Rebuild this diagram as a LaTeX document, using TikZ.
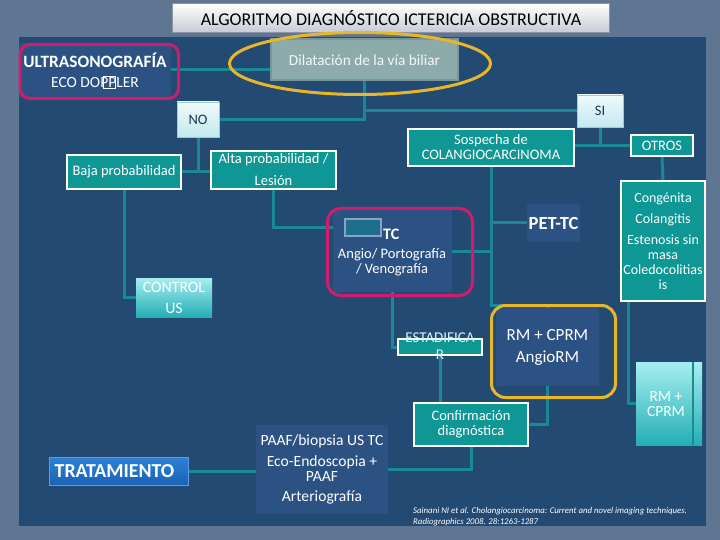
\documentclass[tikz,border=0pt]{standalone}
\usepackage{fontspec}
\setmainfont{Carlito}
\usetikzlibrary{calc}
\pgfdeclarelayer{bgl}
\pgfdeclarelayer{connl}
\pgfsetlayers{bgl,connl,main}
\definecolor{outerbg}{HTML}{5E7692}
\definecolor{panel}{HTML}{234A73}
\definecolor{innerblue}{HTML}{2B5283}
\definecolor{tealc}{HTML}{0F9796}
\definecolor{connc}{HTML}{1B8896}
\definecolor{pinkc}{HTML}{D11C6D}
\definecolor{yellowc}{HTML}{E8B62A}
\definecolor{dilc}{HTML}{8DABAA}
\definecolor{dilborder}{HTML}{7A9797}
\definecolor{lighttop}{HTML}{F0FAFB}
\definecolor{lightbot}{HTML}{C2E8EF}
\definecolor{lightborder}{HTML}{9CCBD5}
\definecolor{darktxt}{HTML}{1F3550}
\definecolor{cyantop}{HTML}{A6EEF1}
\definecolor{cyanbot}{HTML}{24AEB4}
\definecolor{trattop}{HTML}{2B80D6}
\definecolor{tratbot}{HTML}{1A62B4}
\definecolor{tratborder}{HTML}{5C9CE0}
\definecolor{titletop}{HTML}{FFFFFF}
\definecolor{titlebot}{HTML}{C6CAD6}
\definecolor{titleborder}{HTML}{8E94A8}
\definecolor{sqfill}{HTML}{1E6E8C}
\definecolor{sqborder}{HTML}{86A4C4}
\newcommand\nrmtxt{\fontsize{14.5}{15}\selectfont}
\tikzset{
  conn/.style={draw=connc, line width=3pt},
  tbox/.style={fill=tealc, draw=white, line width=2pt, text=white, inner sep=0pt, align=center, font=\nrmtxt},
  bbox/.style={fill=innerblue, text=white, inner sep=0pt, align=center, font=\nrmtxt},
  lbox/.style={top color=lighttop, bottom color=lightbot, draw=lightborder, line width=0.5pt, text=darktxt, inner sep=0pt, font=\nrmtxt},
  cbox/.style={top color=cyantop, bottom color=cyanbot, text=white, inner sep=0pt, align=center, font=\nrmtxt},
  pinkframe/.style={draw=pinkc, line width=3pt, rounded corners=10pt},
  yellowframe/.style={draw=yellowc, line width=3pt, rounded corners=14pt},
}
\begin{document}
\begin{tikzpicture}[x=1pt,y=-1pt]
\useasboundingbox (0,0) rectangle (720,540);
\begin{pgfonlayer}{bgl}
\fill[outerbg] (0,0) rectangle (720,540);
\fill[panel] (19,37) rectangle (706,526);
\end{pgfonlayer}

% title
\node[top color=titletop, bottom color=titlebot, draw=titleborder, line width=0.8pt,
  minimum width=437, minimum height=29, inner sep=0pt, text=black,
  font=\fontsize{18}{20}\selectfont] (title) at (391,18) {ALGORITMO DIAGNÓSTICO ICTERICIA OBSTRUCTIVA};

% ultrasonografia
\node[bbox, minimum width=152, minimum height=54, font=\fontsize{15.5}{16}\selectfont] (us) at (95,70)
  {{\fontsize{17.3}{18}\selectfont\bfseries ULTRASONOGRAFÍA}\\[4pt]ECO DOPPLER};
\draw[white, line width=0.6pt] (103,76) rectangle (115,88);
\draw[pinkframe] (20,44.5) rectangle (178.5,98.5);

% dilatacion
\node[fill=dilc, draw=dilborder, line width=1.5pt, minimum width=187, minimum height=41,
  inner sep=0pt, text={white!90!dilc}, font=\fontsize{15.3}{16}\selectfont] (dil) at (364.5,59.5)
  {\raisebox{-3pt}[10pt][3pt]{Dilatación de la vía biliar}};
\draw[yellowc, line width=3pt] (360,63.5) ellipse [x radius=130.5pt, y radius=31pt];

% NO / SI
\node[lbox, minimum width=42, minimum height=35] (no) at (198,119.5) {NO};
\node[lbox, minimum width=46, minimum height=32] (si) at (600,111) {SI};

% NO branch
\node[tbox, minimum width=114, minimum height=34] (baja) at (124,172) {Baja probabilidad};
\node[tbox, minimum width=125, minimum height=38] (alta) at (273.5,170) {Alta probabilidad /\\[7pt]Lesión};
\node[cbox, minimum width=76, minimum height=39, font=\fontsize{15.8}{16}\selectfont] (control) at (174,297.5) {CONTROL\\[5pt]US};

% TC group
\node[fill=innerblue, minimum width=119, minimum height=82, inner sep=0pt] (tcin) at (392.5,251) {};
\node[fill=sqfill, draw=sqborder, line width=2pt, minimum width=36, minimum height=17, inner sep=0pt] (tcsq) at (363,227.5) {};
\node[anchor=west, text=white, inner sep=0pt, font=\fontsize{16}{18}\selectfont\bfseries] (tctxt) at (383,234) {TC};
\node[text=white, inner sep=0pt, align=center, font=\nrmtxt] (angio) at (392,262) {Angio/ Portografía\\/ Venografía};
\draw[pinkframe, rounded corners=13pt] (327.5,208.5) rectangle (472.5,295.5);

% SI branch
\node[tbox, minimum width=166, minimum height=37] (sosp) at (491,147.5) {Sospecha de\\COLANGIOCARCINOMA};
\node[tbox, minimum width=62, minimum height=21] (otros) at (662,145.5) {OTROS};
\node[tbox, minimum width=84, minimum height=120, font=\fontsize{14}{15}\selectfont] (cong) at (663,241)
  {Congénita\\[6pt]Colangitis\\[6pt]Estenosis sin\\masa\\Coledocolitias\\is};
\node[bbox, minimum width=53, minimum height=38, font=\fontsize{18.5}{19}\selectfont\bfseries] (pet) at (553.5,223) {PET-TC};

% RM group
\node[bbox, minimum width=103, minimum height=78, font=\fontsize{17}{17}\selectfont] (rm) at (547.5,347) {RM + CPRM\\[5pt]AngioRM};
\draw[yellowframe] (491.5,305.5) rectangle (615.5,397.5);
\node[cbox, minimum width=66, minimum height=83] (rm2) at (669,403.5) {};
\draw[cyanbot!80!black, line width=1.2pt] (693,362) -- (693,445);
\node[text=white, inner sep=0pt, align=center, font=\fontsize{15.5}{14.5}\selectfont] (rm2txt) at (666,404) {RM +\\CPRM};

% estadificar
\node[fill=tealc, draw=white, line width=2pt, minimum width=84, minimum height=16, inner sep=0pt] (estad) at (440,347) {};
\node[text=white!85!cyan, inner sep=0pt, align=center, font=\fontsize{15}{17}\selectfont] (estadtxt) at (440,346.5) {ESTADIFICA\\R};

% confirmacion
\node[tbox, minimum width=114, minimum height=43] (conf) at (471,424.5) {Confirmación\\diagnóstica};

% PAAF
\node[bbox, minimum width=132, minimum height=89, font=\fontsize{15.6}{15.5}\selectfont] (paaf) at (322,469.5)
  {PAAF/biopsia US TC\\[5pt]Eco-Endoscopia +\\PAAF\\[4pt]Arteriografía};

% tratamiento
\node[top color=trattop, bottom color=tratbot, draw=tratborder, line width=1pt,
  minimum width=139, minimum height=28, inner sep=0pt, text=white,
  font=\fontsize{19.8}{20}\selectfont\bfseries] (trat) at (119,471.5) {\hspace*{-9pt}TRATAMIENTO};

% citation
\node[anchor=west, text=white, inner sep=0pt, align=left, font=\fontsize{8.8}{11}\selectfont\itshape] (cite) at (413,516.5)
  {Sainani NI et al. Cholangiocarcinoma: Current and novel imaging techniques.\\Radiographics 2008. 28:1263-1287};

% connectors
\begin{pgfonlayer}{connl}
\draw[conn] (us.east) -- (us.east -| dil.west);
\draw[conn] (dil.south) |- (no.east);
\draw[conn] (dil.south |- si.west) -- (si.west);
\coordinate (jn) at ($(no.south)+(0,34)$);
\draw[conn] (no.south) -- (jn);
\draw[conn] (baja.east |- jn) -- (alta.west |- jn);
\draw[conn] (baja.south) |- (control.west);
\draw[conn] (alta.south) |- (tcsq.west);
\coordinate (js) at (si.south |- otros.west);
\draw[conn] (si.south) -- (js);
\draw[conn] (sosp.east |- js) -- (otros.west);
\draw[conn] (otros.south) -- (cong.north);
\draw[conn] ($(cong.south)+(-35,0)$) |- (rm2.west);
\draw[conn] (sosp.south) |- ($(rm.north)+(0,-2)$) -- (rm.north);
\draw[conn] (sosp.south |- pet.west) -- (pet.west);
\draw[conn] (tcin.east) -- (tcin.east -| sosp.south);
\draw[conn] (tcin.south) |- (estad.west);
\draw[conn] (estad.south) -- (estad.south |- conf.north);
\draw[conn] (rm.south) |- (conf.east);
\draw[conn] (conf.south) |- (paaf.east);
\draw[conn] (trat.east) -- (trat.east -| paaf.west);
\end{pgfonlayer}
\end{tikzpicture}
\end{document}
